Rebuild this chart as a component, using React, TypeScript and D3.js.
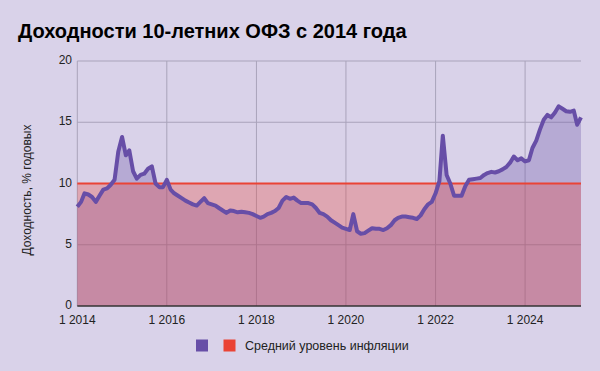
import React from "react";
import * as d3 from "d3";

const title = "Доходности 10-летних ОФЗ с 2014 года";
const yAxisTitle = "Доходность, % годовых";
const legendLabels = ["", "Средний уровень инфляции"];
const startMonth = new Date(2014, 0, 1);
const yields = [
  8.1, 8.5, 9.2, 9.1, 8.9, 8.5, 9.0, 9.5, 9.6, 9.9, 10.3, 12.6,
  13.8, 12.3, 12.7, 11.0, 10.4, 10.7, 10.8, 11.2, 11.4, 10.0, 9.7, 9.7,
  10.3, 9.5, 9.2, 9.0, 8.8, 8.6, 8.45, 8.3, 8.2, 8.5, 8.8, 8.4,
  8.3, 8.2, 8.0, 7.8, 7.6, 7.8, 7.75, 7.65, 7.7, 7.65, 7.6, 7.5,
  7.35, 7.2, 7.3, 7.5, 7.6, 7.75, 8.0, 8.6, 8.9, 8.75, 8.85, 8.6,
  8.4, 8.4, 8.4, 8.3, 8.0, 7.6, 7.5, 7.3, 7.0, 6.8, 6.6, 6.4,
  6.3, 6.2, 7.5, 6.1, 5.9, 5.95, 6.15, 6.35, 6.3, 6.3, 6.2, 6.35,
  6.6, 7.0, 7.2, 7.3, 7.3, 7.25, 7.2, 7.1, 7.4, 7.9, 8.3, 8.5,
  9.2, 10.2, 13.9, 10.7, 10.0, 9.0, 9.0, 9.0, 9.8, 10.3, 10.35, 10.4,
  10.45, 10.7, 10.85, 10.95, 10.9, 11.0, 11.15, 11.35, 11.7, 12.2, 11.9, 12.05,
  11.8, 11.9, 12.9, 13.5, 14.4, 15.2, 15.6, 15.4, 15.8, 16.3, 16.1, 15.9,
  15.85, 15.95, 14.8, 15.4,
];
const inflationLevel = 10;
const yTicks = [0, 5, 10, 15, 20];
const xTickYears = [2014, 2016, 2018, 2020, 2022, 2024];

const W = 600;
const H = 371;
const BG = "#d9d2e9";
const PURPLE = "#674ea7";
const RED = "#ea4335";
const GRID = "#a9a3ba";
const FONT = "Arial, 'Liberation Sans', sans-serif";

export default function App() {
  const data = yields.map((v, i) => ({ date: d3.timeMonth.offset(startMonth, i), v }));
  const lastDate = data[data.length - 1].date;

  const x = d3.scaleTime().domain([startMonth, lastDate]).range([77.3, 581]);
  const y = d3.scaleLinear().domain([0, 20]).range([306, 61]);

  const areaY = d3
    .area<{ date: Date; v: number }>()
    .x((d) => x(d.date))
    .y0(y(0))
    .y1((d) => y(d.v));
  const lineY = d3
    .line<{ date: Date; v: number }>()
    .x((d) => x(d.date))
    .y((d) => y(d.v));

  const infl = data.map((d) => ({ date: d.date, v: inflationLevel }));

  const [x0, x1] = x.range();

  return (
    <svg
      width={W}
      height={H}
      style={{ position: "absolute", left: 0, top: 0, background: BG }}
      fontFamily={FONT}
    >
      <rect x={0} y={0} width={W} height={H} fill={BG} />
      <text x={18} y={38} fontSize={20} fontWeight="bold" fill="#000">
        {title}
      </text>

      {/* grid */}
      {yTicks.slice(1).map((t) => (
        <line key={"gy" + t} x1={x0} x2={x1} y1={y(t)} y2={y(t)} stroke={GRID} strokeWidth={1} />
      ))}
      {xTickYears.map((yr) => {
        const xx = x(new Date(yr, 0, 1));
        return <line key={"gx" + yr} x1={xx} x2={xx} y1={y(20)} y2={y(0)} stroke={GRID} strokeWidth={1} />;
      })}

      {/* areas */}
      <path d={areaY(data) || ""} fill={PURPLE} fillOpacity={0.3} />
      <path d={areaY(infl) || ""} fill={RED} fillOpacity={0.3} />
      <path d={lineY(infl) || ""} fill="none" stroke={RED} strokeWidth={2} />
      <path d={lineY(data) || ""} fill="none" stroke={PURPLE} strokeWidth={4} strokeLinejoin="round" />

      {/* baseline */}
      <line x1={x0} x2={x1} y1={y(0)} y2={y(0)} stroke="#333" strokeWidth={1.5} />

      {/* y labels */}
      {yTicks.map((t) => (
        <text key={"ty" + t} x={72} y={y(t) - 1} dy="0.35em" textAnchor="end" fontSize={12} fill="#222">
          {t}
        </text>
      ))}
      {/* x labels */}
      {xTickYears.map((yr) => (
        <text key={"tx" + yr} x={x(new Date(yr, 0, 1))} y={324} textAnchor="middle" fontSize={12} fill="#222">
          {"1 " + yr}
        </text>
      ))}

      <text
        transform={`translate(31,190) rotate(-90)`}
        textAnchor="middle"
        fontSize={12}
        fill="#222"
      >
        {yAxisTitle}
      </text>

      {/* legend */}
      <rect x={196} y={339.5} width={12} height={12} fill={PURPLE} />
      <text x={212} y={350} fontSize={12.5} fill="#222">{legendLabels[0]}</text>
      <rect x={223.5} y={339.5} width={12} height={12} fill={RED} />
      <text x={245} y={350} fontSize={12.5} fill="#222">
        {legendLabels[1]}
      </text>
    </svg>
  );
}
